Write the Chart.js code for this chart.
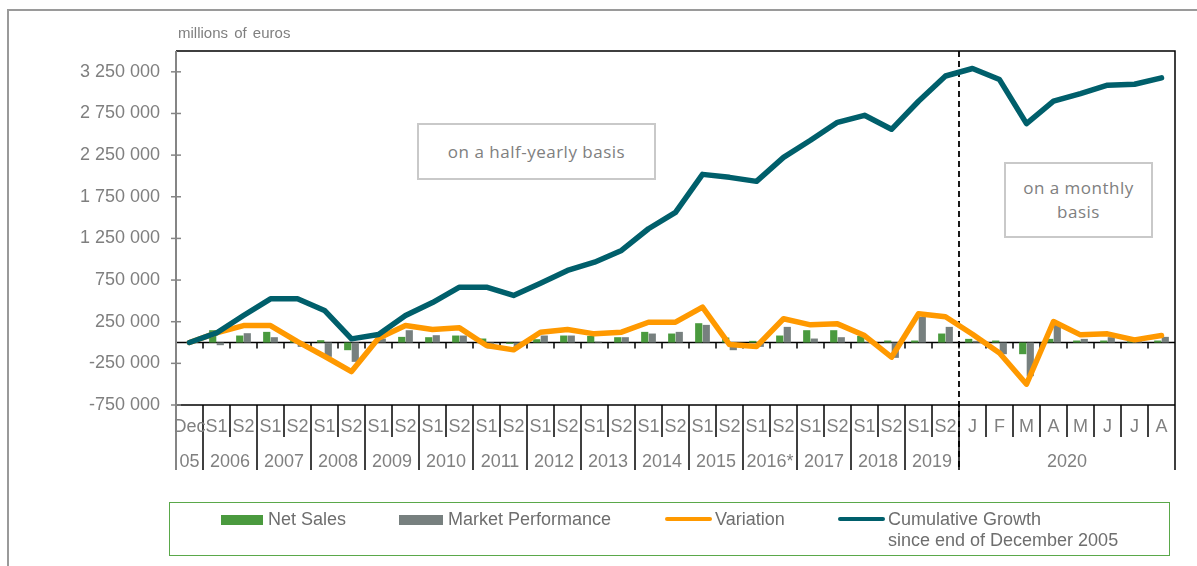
<!DOCTYPE html>
<html>
<head>
<meta charset="utf-8">
<script src="https://cdn.jsdelivr.net/npm/chart.js@4.4.0/dist/chart.umd.min.js"></script>
<style>
  html, body { margin: 0; padding: 0; background: #fff; }
  body { width: 1197px; height: 566px; position: relative; overflow: hidden; font-family: "Liberation Sans", Arial, sans-serif; }
  #frame { position: absolute; left: 7px; top: 9px; width: 1300px; height: 700px; border-top: 2px solid #9a9a9a; border-left: 2px solid #9a9a9a; }
  #chart { position: absolute; left: 0; top: 0; }
  .unit { position: absolute; left: 178px; top: 24px; font-size: 15px; color: #7f7f7f; word-spacing: 2px; }
  .note { position: absolute; border: 2px solid #c9c9c9; color: #808080; font-family: "Open Sans", sans-serif; font-size: 17px; letter-spacing: 0.5px; text-align: center; box-sizing: border-box; background: #fff; }
  #legend { position: absolute; left: 169px; top: 502px; width: 1001px; height: 54px; border: 1.5px solid #5aa84a; box-sizing: border-box; }
  .lg { position: absolute; font-size: 18px; color: #6e6e6e; line-height: 21px; white-space: nowrap; }
  .sw { position: absolute; }
</style>
</head>
<body>
<div id="frame"></div>
<canvas id="chart" width="1197" height="566"></canvas>
<div class="unit">millions of euros</div>
<div class="note" style="left:417px; top:123px; width:239px; height:57px; line-height:53px;">on a half-yearly basis</div>
<div class="note" style="left:1004px; top:162px; width:149px; height:76px; padding-top:12px; line-height:24px;">on a monthly<br>basis</div>
<div id="legend">
  <div class="sw" style="left:51px; top:12px; width:42px; height:10px; background:#4a9a3e;"></div>
  <div class="lg" style="left:98px; top:6px;">Net Sales</div>
  <div class="sw" style="left:229px; top:12px; width:44px; height:10px; background:#77807f;"></div>
  <div class="lg" style="left:278px; top:6px;">Market Performance</div>
  <div class="sw" style="left:495px; top:14px; width:47px; height:4px; border-radius:2px; background:#ff9900;"></div>
  <div class="lg" style="left:545px; top:6px;">Variation</div>
  <div class="sw" style="left:668px; top:14px; width:47px; height:4px; border-radius:2px; background:#005f6b;"></div>
  <div class="lg" style="left:718px; top:6px;">Cumulative Growth<br>since end of December 2005</div>
</div>
<script>
// ---- data ----
const periodLabels = ['Dec','S1','S2','S1','S2','S1','S2','S1','S2','S1','S2','S1','S2','S1','S2','S1','S2','S1','S2','S1','S2','S1','S2','S1','S2','S1','S2','S1','S2','J','F','M','A','M','J','J','A'];
const yearLabels = ['05','2006','2006','2007','2007','2008','2008','2009','2009','2010','2010','2011','2011','2012','2012','2013','2013','2014','2014','2015','2015','2016*','2016*','2017','2017','2018','2018','2019','2019','2020','2020','2020','2020','2020','2020','2020','2020'];
const netSales = [null, 148000, 84000, 128000, 28000, 28000, -92000, 4000, 68000, 64000, 84000, 48000, -16000, 40000, 84000, 80000, 64000, 128000, 108000, 232000, 60000, 20000, 84000, 148000, 148000, 80000, 24000, 24000, 108000, 44000, 24000, -140000, 44000, 24000, 24000, 16000, 24000];
const marketPerformance = [null, -32000, 112000, 64000, -52000, -172000, -232000, 48000, 148000, 88000, 84000, -70000, -60000, 84000, 84000, 10000, 64000, 108000, 128000, 212000, -92000, -52000, 188000, 48000, 64000, 5000, -184000, 308000, 188000, 20000, -140000, -404000, 216000, 44000, 64000, 20000, 68000];
const variation = [0, 115000, 204000, 204000, 10000, -165000, -349000, 52000, 204000, 156000, 176000, -36000, -88000, 124000, 156000, 104000, 124000, 244000, 244000, 425000, -24000, -48000, 285000, 212000, 224000, 84000, -176000, 345000, 310000, 100000, -125000, -500000, 252000, 92000, 104000, 32000, 84000];
const cumulativeGrowth = [0, 115000, 324000, 525000, 525000, 385000, 44000, 96000, 324000, 480000, 665000, 665000, 565000, 713000, 865000, 965000, 1106000, 1366000, 1562000, 2019000, 1983000, 1935000, 2223000, 2428000, 2644000, 2728000, 2560000, 2897000, 3200000, 3290000, 3157000, 2628000, 2897000, 2989000, 3089000, 3101000, 3177000];
const yTickValues = [-750000, -250000, 250000, 750000, 1250000, 1750000, 2250000, 2750000, 3250000];
const yMin = -750000, yMax = 3500000;
const monthlyStartIndex = 29;

function fmt(v) { return String(v).replace(/\B(?=(\d{3})+(?!\d))/g, ' '); }

const axisPlugin = {
  id: 'axisPlugin',
  beforeDatasetsDraw(chart) {
    const ctx = chart.ctx, ca = chart.chartArea, xs = chart.scales.x, ys = chart.scales.y;
    const w = xs.getPixelForValue(1) - xs.getPixelForValue(0);
    const labelBottom = ca.bottom + 65;
    ctx.save();
    const y0 = ys.getPixelForValue(0);
    ctx.strokeStyle = '#000'; ctx.lineWidth = 1.5;
    ctx.beginPath(); ctx.moveTo(ca.left, y0); ctx.lineTo(ca.right, y0); ctx.stroke();
    for (let k = 1; k < periodLabels.length; k++) {
      const bx = xs.getPixelForValue(k) - w / 2;
      ctx.beginPath(); ctx.moveTo(bx, y0); ctx.lineTo(bx, y0 + 6); ctx.stroke();
    }
    const dx = xs.getPixelForValue(monthlyStartIndex) - w / 2;
    ctx.setLineDash([6, 4]); ctx.lineWidth = 1.8;
    ctx.beginPath(); ctx.moveTo(dx, ca.top); ctx.lineTo(dx, labelBottom); ctx.stroke();
    ctx.setLineDash([]);
    ctx.restore();
  },
  afterDraw(chart) {
    const ctx = chart.ctx, ca = chart.chartArea, xs = chart.scales.x, ys = chart.scales.y;
    const w = xs.getPixelForValue(1) - xs.getPixelForValue(0);
    const labelBottom = ca.bottom + 65, shortBottom = ca.bottom + 32;
    ctx.save();
    ctx.strokeStyle = '#000'; ctx.lineWidth = 1.5;
    ctx.beginPath(); ctx.moveTo(ca.left, ca.top); ctx.lineTo(ca.right, ca.top); ctx.lineTo(ca.right, labelBottom); ctx.stroke();
    ctx.beginPath(); ctx.moveTo(ca.left, ca.bottom); ctx.lineTo(ca.right, ca.bottom); ctx.stroke();
    for (let k = 1; k < periodLabels.length; k++) {
      const bx = xs.getPixelForValue(k) - w / 2;
      const full = yearLabels[k] !== yearLabels[k - 1];
      ctx.beginPath(); ctx.moveTo(bx, ca.bottom); ctx.lineTo(bx, full ? labelBottom : shortBottom); ctx.stroke();
    }
    ctx.strokeStyle = '#858585'; ctx.lineWidth = 2;
    ctx.beginPath(); ctx.moveTo(ca.left, ca.top); ctx.lineTo(ca.left, labelBottom); ctx.stroke();
    ctx.lineWidth = 1.5;
    yTickValues.forEach(v => {
      const ty = ys.getPixelForValue(v);
      ctx.beginPath(); ctx.moveTo(ca.left - 5, ty); ctx.lineTo(ca.left + 5, ty); ctx.stroke();
    });
    ctx.fillStyle = '#808080';
    ctx.font = '18px "Liberation Sans", Arial, sans-serif';
    ctx.textAlign = 'center'; ctx.textBaseline = 'middle';
    periodLabels.forEach((lab, i) => {
      ctx.fillText(lab, xs.getPixelForValue(i), ca.bottom + 22);
    });
    let start = 0;
    for (let k = 1; k <= yearLabels.length; k++) {
      if (k === yearLabels.length || yearLabels[k] !== yearLabels[start]) {
        const cx = (xs.getPixelForValue(start) + xs.getPixelForValue(k - 1)) / 2;
        ctx.fillText(yearLabels[start], cx, ca.bottom + 57);
        start = k;
      }
    }
    ctx.restore();
  }
};

new Chart(document.getElementById('chart'), {
  type: 'bar',
  data: {
    labels: periodLabels.map((p, i) => p + ' ' + yearLabels[i]),
    datasets: [
      { type: 'line', label: 'Cumulative Growth since end of December 2005', data: cumulativeGrowth, borderColor: '#005f6b', backgroundColor: '#005f6b', borderWidth: 5.5, pointRadius: 0, tension: 0, order: 0, borderJoinStyle: 'round', borderCapStyle: 'round' },
      { type: 'line', label: 'Variation', data: variation, borderColor: '#ff9900', backgroundColor: '#ff9900', borderWidth: 5.5, pointRadius: 0, tension: 0, order: 1, borderJoinStyle: 'round', borderCapStyle: 'round' },
      { label: 'Net Sales', data: netSales, backgroundColor: '#4a9a3e', categoryPercentage: 0.56, barPercentage: 0.95, order: 2 },
      { label: 'Market Performance', data: marketPerformance, backgroundColor: '#77807f', categoryPercentage: 0.56, barPercentage: 0.95, order: 3 }
    ]
  },
  options: {
    responsive: false,
    animation: false,
    devicePixelRatio: 1,
    layout: { padding: { top: 51, right: 22, bottom: 161, left: 0 } },
    plugins: { legend: { display: false }, tooltip: { enabled: false } },
    scales: {
      x: { display: false, offset: true, grid: { display: false } },
      y: {
        min: yMin, max: yMax,
        afterBuildTicks: s => { s.ticks = yTickValues.map(v => ({ value: v })); },
        afterFit: s => { s.width = 176; },
        ticks: { callback: v => fmt(v), color: '#7f7f7f', font: { family: '"Liberation Sans", Arial, sans-serif', size: 18 }, padding: 16 },
        grid: { display: false, drawTicks: false },
        border: { display: false }
      }
    }
  },
  plugins: [axisPlugin]
});
</script>
</body>
</html>
